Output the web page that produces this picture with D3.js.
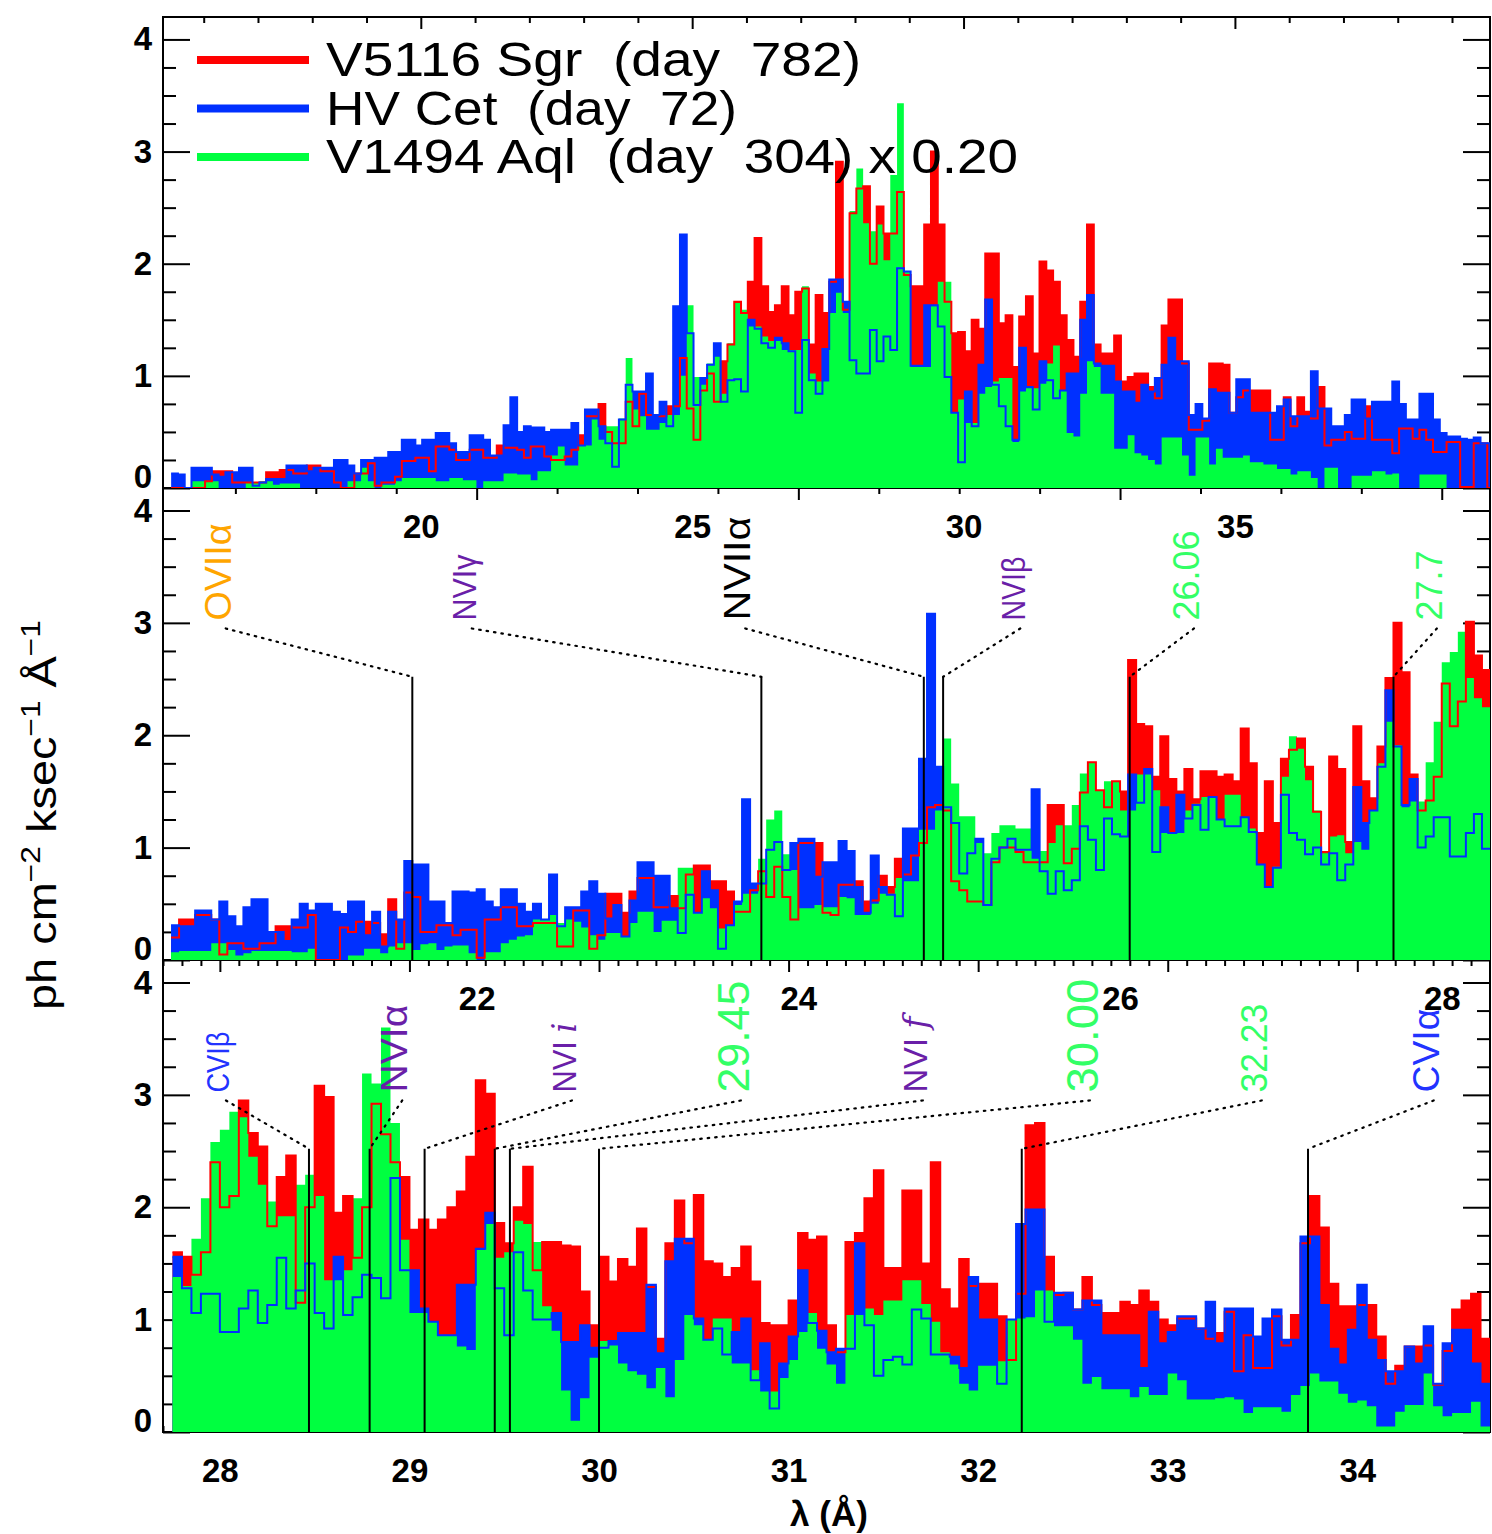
<!DOCTYPE html>
<html>
<head>
<meta charset="utf-8">
<script src="https://cdn.jsdelivr.net/npm/d3@7"></script>
<style>
  body { margin: 0; background: #fff; }
  svg text { font-family: "Liberation Sans", Arial, sans-serif; }
</style>
</head>
<body>
<svg id="chart" width="1492" height="1534"></svg>
<script>
// ---------------------------------------------------------------------------
// Spectra (ph cm^-2 ksec^-1 Å^-1), one value per wavelength bin.
// V1494 Aql is already scaled by 0.20.
// ---------------------------------------------------------------------------

// Panel 1: full band, bins of 0.125 Å starting at 15.40 Å
const p1Start = 15.40, p1Bin = 0.125;
const p1Red = [0,0,0,0,0,0.06,0.15,0.15,0.15,0.05,
  0.05,0.05,0.05,0.05,0.14,0.14,0.16,0.16,0.13,0.13,
  0.20,0.20,0.15,0.15,0.05,0,0,0.13,0.13,0.22,
  0.02,0.05,0.05,0.10,0.24,0.24,0.27,0.27,0.15,0.37,
  0.37,0.34,0.25,0.25,0.34,0.34,0.27,0.27,0.38,0.36,
  0.36,0.34,0.27,0.37,0.37,0.28,0.25,0.25,0.28,0.34,
  0.47,0.64,0.64,0.75,0.50,0.40,0.40,0.77,0.55,0.84,
  0.65,0.65,0.64,0.73,0.73,1.16,0.71,0.43,0.87,1.02,
  0.77,1.13,1.28,1.66,1.56,1.84,2.23,1.80,1.57,1.63,
  1.80,1.54,1.75,1.78,1.28,1.72,1.56,1.84,2.91,1.59,
  2.45,2.67,2.69,2.00,2.51,2.27,2.27,2.64,1.90,1.80,
  1.80,2.35,3.00,2.35,1.66,1.38,1.39,1.22,1.50,1.42,
  2.09,2.09,1.47,1.54,1.08,1.53,1.71,1.20,2.02,1.94,
  1.84,1.54,1.32,1.17,1.66,2.35,1.28,1.20,1.20,1.36,
  0.95,0.99,1.02,1.02,0.90,0.80,1.45,1.68,1.68,1.11,
  0.52,0.52,0.60,1.11,1.11,1.10,0.67,0.81,0.87,0.87,
  0.87,0.87,0.43,0.43,0.81,0.55,0.81,0.68,0.62,0.90,
  0.38,0.43,0.43,0.50,0.44,0.44,0.73,0.43,0.43,0.43,
  0.31,0.53,0.53,0.44,0.52,0.43,0.32,0.32,0.41,0.41,
  0.01,0.01,0.40,0.40,0];
const p1Blue = [0.13,0.12,0,0.18,0.18,0.18,0.12,0.10,0.14,0.14,
  0.18,0.18,0.02,0.05,0.08,0.08,0.08,0.20,0.20,0.20,
  0.15,0.18,0.18,0.18,0.25,0.25,0.20,0.13,0.25,0.25,
  0.27,0.27,0.32,0.32,0.43,0.43,0.38,0.43,0.43,0.49,
  0.49,0.40,0.32,0.32,0.47,0.47,0.43,0.29,0.29,0.56,
  0.81,0.50,0.55,0.54,0.54,0.50,0.52,0.52,0.52,0.58,
  0.38,0.70,0.70,0.55,0.40,0.19,0.61,0.92,0.86,0.86,
  1.02,0.65,0.77,0.55,1.62,2.26,1.38,0.74,0.98,1.10,
  1.29,0.77,0.96,0.97,0.86,1.50,1.42,1.29,1.25,1.34,
  1.29,1.22,0.67,1.32,0.96,0.84,1.24,1.86,1.86,1.66,
  1.14,1.02,1.02,1.41,1.13,1.35,1.23,1.96,1.93,1.09,
  1.09,1.63,1.63,1.44,0.99,0.67,0.23,0.86,0.55,1.10,
  1.68,0.92,0.73,0.55,0.43,1.25,0.90,0.70,1.13,0.96,
  0.80,0.87,1.02,1.02,1.50,1.72,1.11,1.09,1.09,0.95,
  0.86,0.86,0.76,0.92,0.86,0.98,1.10,1.34,1.13,1.13,
  0.65,0.75,0.62,0.88,0.85,0.85,0.67,0.97,0.97,0.67,
  0.67,0.67,0.67,0.73,0.79,0.64,0.64,0.64,1.04,0.71,
  0.71,0.55,0.55,0.65,0.79,0.79,0.62,0.77,0.77,0.77,
  0.95,0.75,0.61,0.61,0.84,0.84,0.61,0.49,0.46,0.46,
  0.44,0.43,0.45,0.40,0.40];
const p1Green = [0,0,0,0.06,0.06,0.06,0.06,0,0,0,
  0,0.05,0.05,0.06,0.06,0.03,0.04,0.04,0.04,0,
  0,0,0,0,0,0,0.06,0.06,0.18,0.06,
  0,0.03,0.03,0.06,0.09,0.09,0.09,0.09,0.09,0.06,
  0.06,0.09,0.09,0.07,0.07,0,0.06,0.06,0.06,0.13,
  0.13,0.12,0.12,0.07,0.15,0.15,0.29,0.37,0.20,0.20,
  0.38,0.38,0.61,0.43,0.55,0.55,0.62,1.16,0.70,0.64,
  0.52,0.52,0.58,0.65,0.65,1.00,1.63,0.99,0.92,1.11,
  1.17,0.84,1.29,1.65,1.59,1.44,1.44,1.35,1.31,1.31,
  1.23,1.23,1.23,1.80,1.02,0.95,0.95,1.56,1.74,1.56,
  2.47,2.85,2.36,2.29,2.35,2.03,2.79,3.43,1.93,1.08,
  1.08,1.08,1.62,1.84,1.84,0.67,0.79,0.58,0.58,0.84,
  0.90,0.95,0.98,0.98,0.41,0.86,0.89,0.89,0.93,1.11,
  1.27,0.87,0.49,0.46,0.84,1.13,1.08,0.84,0.84,0.35,
  0.35,0.47,0.31,0.29,0.25,0.21,0.45,0.45,0.45,0.29,
  0.11,0.45,0.45,0.21,0.35,0.27,0.27,0.27,0.29,0.23,
  0.23,0.21,0.21,0.17,0.17,0.12,0.15,0.15,0.09,0,
  0.18,0.18,0,0,0.11,0.11,0.11,0.15,0.15,0.12,
  0.13,0,0,0,0.12,0.12,0.12,0.12,0,0,
  0,0,0,0,0];

// Panel 2: 20-28.3 Å, bins of 0.05 Å starting at 20.10 Å
const p2Start = 20.10, p2Bin = 0.05;
const p2Red = [0.20,0.36,0.36,0.40,0.40,0.36,0.05,0.15,0.15,0.10,
  0.10,0.15,0.15,0.30,0.30,0.29,0.29,0.40,0,0,
  0,0.29,0.25,0.34,0.34,0.33,0.23,0.54,0.10,0.60,
  0.56,0.25,0.25,0.31,0.31,0.22,0.27,0.27,0.02,0.36,
  0.36,0.47,0.47,0.30,0.30,0.33,0.33,0.33,0.12,0.12,
  0.44,0.44,0.10,0.22,0.59,0.59,0.42,0.61,0.73,0.73,
  0.47,0.47,0.57,0.46,0.76,0.84,0.84,0.70,0.70,0.61,
  0.43,0.43,0.62,0.79,0.56,0.83,0.56,0.36,1.04,1.04,
  1.04,0.42,0.40,0.67,0.67,0.70,0.52,0.53,0.75,0.65,
  0.90,0.76,0.93,1.04,1.36,1.38,1.33,0.70,0.62,0.52,
  0.52,0.49,0.87,1.00,1.00,0.96,0.87,0.87,0.87,1.38,
  1.38,0.86,0.99,1.49,1.76,1.51,1.36,1.59,1.50,2.67,
  2.10,2.08,1.63,1.99,1.61,1.50,1.70,1.43,1.68,1.68,
  1.63,1.65,1.59,2.06,1.75,1.13,1.59,1.22,1.79,1.87,
  1.97,1.72,1.32,0.96,1.81,1.70,1.05,2.08,1.59,1.44,
  1.90,2.51,3.00,2.56,1.65,1.33,1.42,1.63,2.46,2.08,
  2.30,3.01,2.71,2.58];
const p2Blue = [0.31,0.30,0.30,0.44,0.44,0.36,0.52,0.39,0.30,0.47,
  0.54,0.54,0.25,0.25,0.17,0.36,0.50,0.44,0.50,0.50,
  0.43,0.41,0.52,0.52,0.22,0.43,0.12,0.43,0.36,0.88,
  0.85,0.85,0.52,0.52,0.33,0.61,0.61,0.60,0.63,0.52,
  0.47,0.63,0.63,0.50,0.43,0.50,0.36,0.76,0.30,0.47,
  0.47,0.61,0.70,0.59,0.37,0.49,0.21,0.53,0.87,0.87,
  0.75,0.75,0.46,0.24,0.58,0.42,0.79,0.62,0.10,0.31,
  0.52,1.43,0.68,0.68,0.98,1.05,0.80,1.04,1.08,1.08,
  0.74,0.87,0.87,1.06,0.97,0.65,0.42,0.93,0.65,0.58,
  0.39,1.17,1.17,1.79,3.08,1.72,1.36,1.22,0.77,0.95,
  1.08,0.49,0.90,1.00,1.08,0.98,0.98,1.52,0.79,0.59,
  0.79,0.62,0.71,1.19,1.07,0.80,1.26,1.12,1.10,1.65,
  1.40,1.70,0.96,1.36,1.13,1.47,1.26,1.38,1.16,1.45,
  1.25,1.19,1.19,1.27,1.14,0.85,0.65,0.82,1.47,1.13,
  1.07,0.94,1.00,0.85,0.95,0.71,0.85,1.54,1.22,1.33,
  1.72,2.40,1.90,1.38,1.61,1.00,1.10,1.27,1.27,0.92,
  0.92,1.13,1.30,0.99];
const p2Green = [0.07,0.08,0.08,0.08,0.08,0.15,0.15,0.09,0.04,0.06,
  0.08,0.08,0.08,0.08,0.08,0.07,0.07,0.10,0,0,
  0,0,0.04,0.04,0.10,0.10,0.06,0.12,0.15,0.15,
  0.09,0.14,0.15,0.09,0.12,0.13,0.13,0.06,0,0.07,
  0.07,0.15,0.18,0.21,0.22,0.36,0.36,0.40,0.33,0.36,
  0.34,0.29,0.22,0.18,0.24,0.24,0.21,0.33,0.43,0.43,
  0.25,0.35,0.35,0.82,0.82,0.42,0.55,0.46,0.28,0.31,
  0.49,0.59,0.59,0.90,1.25,1.33,0.94,0.80,0.46,0.46,
  0.49,0.47,0.47,0.56,0.55,0.40,0.40,0.50,0.59,0.59,
  0.73,0.70,0.70,1.16,1.16,1.33,1.97,1.57,1.28,1.28,
  1.04,0.95,1.13,1.20,1.20,1.17,1.17,0.90,0.97,1.04,
  1.20,1.20,1.38,1.66,1.76,1.51,1.59,1.59,1.33,1.33,
  1.65,1.65,1.51,1.13,1.13,1.13,1.33,1.39,1.45,1.45,
  1.25,1.47,1.47,1.27,1.17,0.85,0.65,0.83,1.63,1.99,
  1.88,1.60,1.33,0.95,1.10,1.11,0.95,1.05,0.98,1.33,
  1.75,2.12,1.91,1.36,1.41,1.41,1.76,2.12,2.65,2.74,
  2.92,2.51,2.33,2.25];

// Panel 3: 27.7-34.7 Å, bins of 0.05 Å starting at 27.75 Å
const p3Start = 27.75, p3Bin = 0.05;
const p3Red = [1.60,1.56,1.40,1.60,2.40,2.00,2.10,2.95,2.66,2.54,
  1.83,2.27,2.46,1.15,2.00,3.08,2.98,1.95,2.10,1.55,
  2.00,2.92,2.65,2.40,2.27,1.80,1.89,1.80,1.89,2.00,
  2.14,2.45,3.13,3.01,1.86,1.68,2.00,2.36,1.44,1.69,
  1.69,1.66,1.65,1.25,0.95,1.56,1.34,1.54,1.47,1.81,
  1.29,0.83,1.68,2.06,1.68,2.11,1.52,1.50,1.38,1.46,
  1.65,1.34,0.97,0.95,0.95,1.17,1.77,1.71,1.74,0.95,
  0.71,1.69,1.77,2.08,2.33,1.46,1.46,2.15,2.15,1.50,
  2.40,1.27,1.10,1.54,1.30,1.32,1.32,1.03,0.64,1.23,
  2.73,2.75,1.56,1.22,1.24,1.09,1.38,1.13,1.06,1.06,
  1.16,1.13,1.26,1.16,1.00,0.95,1.01,1.01,0.92,0.83,
  0.88,1.07,0.54,0.86,0.57,0.57,1.03,0.77,1.04,1.68,
  2.10,1.82,1.32,1.12,1.12,1.13,1.13,0.85,0.43,0.59,
  0.76,0.76,0.77,0.42,0.72,1.09,1.17,1.23,0.83];
const p3Blue = [1.56,1.28,1.06,1.23,1.23,0.89,0.89,1.10,1.26,0.97,
  1.13,1.55,1.10,1.26,1.50,1.06,0.92,1.56,1.04,1.20,
  1.40,1.37,1.19,2.26,1.44,1.44,1.10,0.98,0.86,0.86,
  1.31,1.31,1.63,1.95,1.28,0.86,1.60,1.26,1.00,1.00,
  1.06,0.80,0.80,0.95,0.75,0.75,0.81,0.88,0.88,0.88,
  1.31,0.70,1.52,1.72,1.72,1.01,0.82,0.92,0.69,0.89,
  1.01,0.46,0.79,0.21,0.61,0.85,1.44,0.97,0.90,0.71,
  0.74,0.74,1.68,0.95,0.50,0.64,0.67,0.60,1.09,1.01,
  0.69,0.69,0.67,0.57,1.38,1.00,1.00,0.43,1.00,1.85,
  1.98,1.98,0.98,1.24,1.24,1.09,1.17,1.17,0.86,0.86,
  0.86,0.86,0.57,1.07,0.79,0.89,1.03,1.03,0.92,1.16,
  0.79,1.10,1.10,1.10,0.85,1.01,1.09,0.82,0.82,1.74,
  1.74,1.13,0.74,0.60,0.91,1.31,0.82,0.64,0.54,0.54,
  0.76,0.61,0.94,0.43,0.79,0.91,0.91,0.61,0.43];
const p3Green = [1.38,1.30,1.72,2.08,2.58,2.69,2.85,2.80,2.45,2.20,
  2.05,1.92,1.92,2.20,2.29,2.10,1.35,1.35,1.44,2.08,
  3.19,3.10,3.60,2.75,1.71,1.06,1.06,0.98,0.86,0.86,
  0.76,0.73,1.62,1.85,1.55,1.60,1.88,1.85,1.69,1.12,
  0.90,0.37,0.10,0.30,0.66,0.81,0.77,0.61,0.54,0.51,
  0.39,0.57,0.31,0.64,1.04,0.95,0.82,1.01,1.01,0.61,
  0.61,0.55,0.36,0.36,0.48,0.64,0.89,1.06,0.74,0.60,
  0.43,1.04,1.04,1.10,1.04,1.17,1.17,1.35,1.35,1.14,
  0.98,0.71,0.60,0.43,0.37,0.59,0.59,0.63,1.00,1.01,
  1.02,1.26,1.26,0.94,0.94,0.82,0.43,0.49,0.38,0.38,
  0.38,0.31,0.40,0.33,0.33,0.52,0.46,0.29,0.29,0.29,
  0.30,0.31,0.29,0.17,0.22,0.22,0.22,0.18,0.33,0.41,
  0.52,0.45,0.45,0.34,0.26,0.28,0.23,0.05,0.05,0.18,
  0.24,0.24,0.52,0.23,0.14,0.17,0.17,0.27,0.05];

// Axis ranges and tick labels
const p1Domain = [15.25, 39.7], p1Ticks = [20, 25, 30, 35];
const p2Domain = [20.05, 28.3], p2Ticks = [22, 24, 26, 28];
const p3Domain = [27.7, 34.7],  p3Ticks = [28, 29, 30, 31, 32, 33, 34];
const yTicks = [0, 1, 2, 3, 4];

// Legend
const seriesNames = ["V5116 Sgr  (day  782)", "HV Cet  (day  72)", "V1494 Aql  (day  304) x 0.20"];

// Line identifications: name, rest wavelength (Å), and the wavelength above which the label sits
const p2LineNames = ["OVIIα", "NVIγ", "NVIIα", "NVIβ", "26.06", "27.7"];
const p2LineWl    = [21.60, 23.77, 24.78, 24.90, 26.06, 27.7];
const p2LabelWl   = [20.39, 21.92, 23.62, 25.33, 26.41, 27.92];
const p3LineNames = ["CVIβ", "NVIα", "NVI i", "29.45", "NVI f", "30.00", "32.23", "CVIα"];
const p3LineWl    = [28.47, 28.79, 29.08, 29.45, 29.53, 30.00, 32.23, 33.74];
const p3LabelWl   = [27.99, 28.92, 29.815, 30.706, 31.666, 32.547, 33.454, 34.361];

// ---------------------------------------------------------------------------
// Styling
// ---------------------------------------------------------------------------
const COL = { red: "#ff0000", blue: "#0030ff", green: "#00ff40" };
const LABEL_COL = { orange: "#ffa500", purple: "#6a1fa8", black: "#000000", green: "#33ff66", blue: "#2233ff" };
const p2LabelStyle = [
  { c: "orange", len: 97,  fs: 36 }, { c: "purple", len: 66,  fs: 34 },
  { c: "black",  len: 104, fs: 36 }, { c: "purple", len: 64,  fs: 34 },
  { c: "green",  len: 90,  fs: 36 }, { c: "green",  len: 70,  fs: 36 }
];
const p3LabelStyle = [
  { c: "blue",   len: 61,  fs: 32 }, { c: "purple", len: 88,  fs: 36 },
  { c: "purple", len: 70,  fs: 34 }, { c: "green",  len: 112, fs: 44 },
  { c: "purple", len: 76,  fs: 34 }, { c: "green",  len: 114, fs: 44 },
  { c: "green",  len: 89,  fs: 36 }, { c: "blue",   len: 84,  fs: 36 }
];

const L = 163, R = 1490;
const svg = d3.select("#chart");
svg.append("rect").attr("width", 1492).attr("height", 1534).attr("fill", "#fff");
const defs = svg.append("defs");

const panels = [
  { top: 17,  bottom: 488,  domain: p1Domain, start: p1Start, bin: p1Bin,
    red: p1Red, blue: p1Blue, green: p1Green, major: p1Ticks, minorStep: 1, lines: null },
  { top: 488, bottom: 960,  domain: p2Domain, start: p2Start, bin: p2Bin,
    red: p2Red, blue: p2Blue, green: p2Green, major: p2Ticks, minorStep: 0.5,
    lines: { names: p2LineNames, wl: p2LineWl, at: p2LabelWl, style: p2LabelStyle } },
  { top: 960, bottom: 1432, domain: p3Domain, start: p3Start, bin: p3Bin,
    red: p3Red, blue: p3Blue, green: p3Green, major: p3Ticks, minorStep: 0.1,
    lines: { names: p3LineNames, wl: p3LineWl, at: p3LabelWl, style: p3LabelStyle } }
];

const tickLayer = svg.append("g");   // drawn after all panels so labels sit on top

panels.forEach((p, i) => {
  const x = d3.scaleLinear().domain(p.domain).range([L, R]);
  const y = d3.scaleLinear().domain([0, 4.2]).range([p.bottom, p.top]);

  defs.append("clipPath").attr("id", "clip" + i)
    .append("rect").attr("x", L).attr("y", p.top).attr("width", R - L).attr("height", p.bottom - p.top);
  const plot = svg.append("g").attr("clip-path", `url(#clip${i})`);

  const steps = vals => {
    const pts = vals.map((v, k) => [p.start + k * p.bin, v]);
    pts.push([p.start + vals.length * p.bin, vals[vals.length - 1]]);
    return pts;
  };
  const area = d3.area().curve(d3.curveStepAfter).x(d => x(d[0])).y0(y(0)).y1(d => y(d[1]));
  const line = d3.line().curve(d3.curveStepAfter).x(d => x(d[0])).y(d => y(d[1]));

  ["red", "blue", "green"].forEach(s =>
    plot.append("path").attr("d", area(steps(p[s]))).attr("fill", COL[s]));
  ["red", "blue"].forEach(s =>
    plot.append("path").attr("d", line(steps(p[s]))).attr("fill", "none")
      .attr("stroke", COL[s]).attr("stroke-width", 2));

  // line identifications
  if (p.lines) {
    const ann = svg.append("g");
    const lt = p.lines;
    lt.names.forEach((name, j) => {
      const st = lt.style[j];
      const lx = x(lt.wl[j]);
      ann.append("line").attr("x1", lx).attr("x2", lx).attr("y1", y(2.52)).attr("y2", y(0))
        .attr("stroke", "#000").attr("stroke-width", 2);
      ann.append("line").attr("x1", x(lt.at[j]) + 8).attr("y1", y(2.95))
        .attr("x2", lx).attr("y2", y(2.52))
        .attr("stroke", "#000").attr("stroke-width", 2.2)
        .attr("stroke-dasharray", "1.5,6").attr("stroke-linecap", "round");
      const t = ann.append("text")
        .attr("transform", `translate(${x(lt.at[j]) + st.fs * 0.36},${y(3.02)}) rotate(-90)`)
        .attr("font-size", st.fs).attr("fill", LABEL_COL[st.c])
        .attr("textLength", st.len).attr("lengthAdjust", "spacingAndGlyphs");
      const m = name.match(/^(NVI) ([if])$/);
      if (m) {
        t.append("tspan").text(m[1] + " ");
        t.append("tspan").attr("font-style", "italic").attr("font-family", "DejaVu Serif, serif").text(m[2]);
      } else {
        t.text(name);
      }
    });
  }

  // axes: ticks on all four sides pointing inward
  const minors = d3.range(Math.ceil(p.domain[0] / p.minorStep) * p.minorStep, p.domain[1], p.minorStep)
    .filter(v => !p.major.some(m => Math.abs(m - v) < 1e-6));
  const yMinors = d3.range(0.25, 4.2, 0.25).filter(v => Math.abs(v - Math.round(v)) > 1e-6);

  tickLayer.append("g").attr("transform", `translate(0,${p.bottom})`)
    .call(d3.axisBottom(x).tickValues(p.major).tickFormat(d3.format("d")).tickSize(-12).tickPadding(27));
  tickLayer.append("g").attr("transform", `translate(0,${p.bottom})`)
    .call(d3.axisBottom(x).tickValues(minors).tickFormat("").tickSize(-6));
  tickLayer.append("g").attr("transform", `translate(0,${p.top})`)
    .call(d3.axisTop(x).tickValues(p.major).tickFormat("").tickSize(-12));
  tickLayer.append("g").attr("transform", `translate(0,${p.top})`)
    .call(d3.axisTop(x).tickValues(minors).tickFormat("").tickSize(-6));

  const gy = tickLayer.append("g").attr("transform", `translate(${L},0)`)
    .call(d3.axisLeft(y).tickValues(yTicks).tickFormat(d3.format("d")).tickSize(-27).tickPadding(11));
  tickLayer.append("g").attr("transform", `translate(${L},0)`)
    .call(d3.axisLeft(y).tickValues(yMinors).tickFormat("").tickSize(-13));
  tickLayer.append("g").attr("transform", `translate(${R},0)`)
    .call(d3.axisRight(y).tickValues(yTicks).tickFormat("").tickSize(-27));
  tickLayer.append("g").attr("transform", `translate(${R},0)`)
    .call(d3.axisRight(y).tickValues(yMinors).tickFormat("").tickSize(-13));

  gy.selectAll(".tick").filter(d => d === 0).select("text").attr("dy", "-0.02em");

  // frame
  tickLayer.append("rect").attr("x", L).attr("y", p.top).attr("width", R - L).attr("height", p.bottom - p.top)
    .attr("fill", "none").attr("stroke", "#000").attr("stroke-width", 2);
});

tickLayer.selectAll(".domain").remove();
tickLayer.selectAll(".tick line").attr("stroke", "#000").attr("stroke-width", 2);
tickLayer.selectAll(".tick text")
  .attr("font-family", "Liberation Sans, Arial, sans-serif")
  .attr("font-size", 33).attr("font-weight", "bold").attr("fill", "#000");

// legend
const legend = svg.append("g");
const legendColors = [COL.red, COL.blue, COL.green];
const legendLen = [535, 411, 692];
seriesNames.forEach((name, i) => {
  const cy = 60 + i * 48.5;
  legend.append("line").attr("x1", 197).attr("x2", 309).attr("y1", cy).attr("y2", cy)
    .attr("stroke", legendColors[i]).attr("stroke-width", 8);
  legend.append("text").attr("x", 326).attr("y", cy + 16).attr("font-size", 48)
    .attr("textLength", legendLen[i]).attr("lengthAdjust", "spacingAndGlyphs")
    .attr("xml:space", "preserve").style("white-space", "pre").attr("fill", "#000").text(name);
});

// axis titles
const yt = svg.append("text").attr("transform", "translate(56,815) rotate(-90)")
  .attr("text-anchor", "middle").attr("font-size", 40).attr("fill", "#000")
  .attr("textLength", 390).attr("lengthAdjust", "spacingAndGlyphs");
yt.append("tspan").text("ph cm");
yt.append("tspan").attr("font-size", 27).attr("dy", -16).text("−2");
yt.append("tspan").attr("dy", 16).text(" ksec");
yt.append("tspan").attr("font-size", 27).attr("dy", -16).text("−1");
yt.append("tspan").attr("dy", 16).text(" Å");
yt.append("tspan").attr("font-size", 27).attr("dy", -16).text("−1");

svg.append("text").attr("x", 829).attr("y", 1526).attr("text-anchor", "middle")
  .attr("font-size", 35).attr("font-weight", "bold").attr("fill", "#000")
  .attr("xml:space", "preserve").style("white-space", "pre").text("λ (Å)");
</script>
</body>
</html>
